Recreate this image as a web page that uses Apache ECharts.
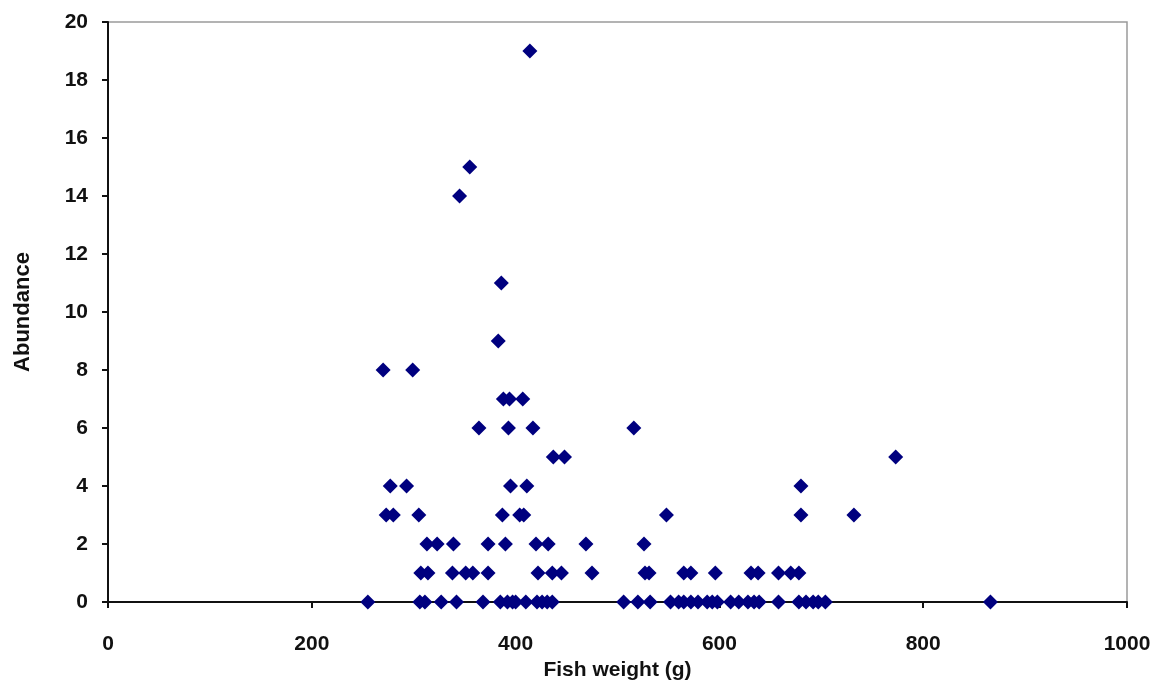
<!DOCTYPE html>
<html>
<head>
<meta charset="utf-8">
<script src="https://cdn.jsdelivr.net/npm/echarts@6/dist/echarts.min.js"></script>
<style>html,body{margin:0;padding:0;background:#fff;}#c{width:1161px;height:698px;}</style>
</head>
<body>
<div id="c"></div>
<script>
// Fish weight (g) values, grouped by abundance level
const weights19 = [414];
const weights15 = [355];
const weights14 = [345];
const weights11 = [386];
const weights9 = [383];
const weights8 = [270, 299];
const weights7 = [388, 394, 407];
const weights6 = [364, 393, 417, 516];
const weights5 = [437, 448, 773];
const weights4 = [277, 293, 395, 411, 680];
const weights3 = [273, 280, 305, 387, 404, 408, 548, 680, 732];
const weights2 = [313, 323, 339, 373, 390, 420, 432, 469, 526];
const weights1 = [307, 314, 338, 351, 358, 373, 422, 436, 445, 475, 527, 531, 565, 572, 596, 631, 638, 658, 670, 678];
const weights0 = [255, 306, 311, 327, 342, 368, 385, 392, 397, 400, 410, 421, 426, 431, 436, 506, 520, 532, 552, 560, 565, 572, 579, 588, 593, 598, 611, 619, 628, 634, 639, 658, 678, 685, 692, 697, 704, 866];

const groups = [
  [0, weights0], [1, weights1], [2, weights2], [3, weights3], [4, weights4],
  [5, weights5], [6, weights6], [7, weights7], [8, weights8], [9, weights9],
  [11, weights11], [14, weights14], [15, weights15], [19, weights19]
];
const xTicks = [0, 200, 400, 600, 800, 1000];
const yTicks = [0, 2, 4, 6, 8, 10, 12, 14, 16, 18, 20];

const points = [];
groups.forEach(([a, ws]) => ws.forEach(w => points.push([w, a])));

const chart = echarts.init(document.getElementById('c'));
const font = '"Liberation Sans", Arial, sans-serif';
chart.setOption({
  animation: false,
  backgroundColor: '#ffffff',
  grid: { left: 108, right: 34, top: 22, bottom: 96, show: true, borderColor: '#9a9a9a', borderWidth: 1.5, backgroundColor: 'transparent' },
  xAxis: {
    type: 'value', min: xTicks[0], max: xTicks[xTicks.length - 1], interval: 200,
    name: 'Fish weight (g)', nameLocation: 'middle', nameGap: 52,
    nameTextStyle: { fontFamily: font, fontWeight: 'bold', fontSize: 21, color: '#111' },
    axisLine: { onZero: false, lineStyle: { color: '#111', width: 2 } },
    axisTick: { show: true, length: 6, lineStyle: { color: '#111', width: 2 } },
    axisLabel: { fontFamily: font, fontWeight: 'bold', fontSize: 21, color: '#111', margin: 32, formatter: v => String(v) },
    splitLine: { show: false }
  },
  yAxis: {
    type: 'value', min: yTicks[0], max: yTicks[yTicks.length - 1], interval: 2,
    name: 'Abundance', nameLocation: 'middle', nameGap: 74, nameRotate: 90,
    nameTextStyle: { fontFamily: font, fontWeight: 'bold', fontSize: 22, color: '#111' },
    axisLine: { onZero: false, lineStyle: { color: '#111', width: 2 } },
    axisTick: { show: true, length: 6, lineStyle: { color: '#111', width: 2 } },
    axisLabel: { fontFamily: font, fontWeight: 'bold', fontSize: 21, color: '#111', margin: 20, formatter: v => String(v) },
    splitLine: { show: false }
  },
  series: [{
    type: 'scatter',
    data: points,
    symbol: 'diamond',
    symbolSize: 15,
    itemStyle: { color: '#00007f', opacity: 1 }
  }]
});
</script>
</body>
</html>
